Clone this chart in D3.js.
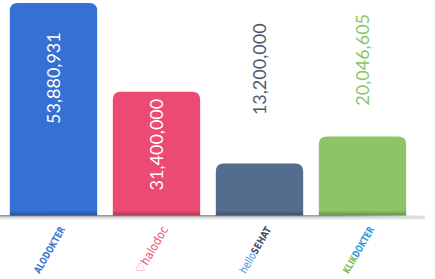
<!DOCTYPE html>
<html lang="en">
<head>
<meta charset="UTF-8">
<title></title>
<script src="https://d3js.org/d3.v7.min.js"></script>
<style>
  html, body { margin: 0; padding: 0; background: #fff; }
  svg { display: block; font-family: Lato, "Open Sans", sans-serif; }
</style>
</head>
<body>
<script>
// data
var brands = ["ALODOKTER", "halodoc", "helloSEHAT", "KLIKDOKTER"];
var values = [53880931, 31400000, 13200000, 20046605];
var barColors = ["#3570d4", "#eb4a72", "#546d8f", "#8bc566"];
var labelColors = ["#ffffff", "#ffffff", "#4b5a6e", "#8bc566"];

var W = 435, H = 279;
var base = 215.5;

var svg = d3.select("body").append("svg").attr("width", W).attr("height", H);
var defs = svg.append("defs");

var sh = defs.append("linearGradient").attr("id", "barShade").attr("x1", 0).attr("y1", 0).attr("x2", 0).attr("y2", 1);
sh.append("stop").attr("offset", "0%").attr("stop-color", "#000").attr("stop-opacity", 0);
sh.append("stop").attr("offset", "100%").attr("stop-color", "#000").attr("stop-opacity", 0.28);

var lg = defs.append("linearGradient").attr("id", "baseH").attr("x1", 0).attr("y1", 0).attr("x2", 1).attr("y2", 0);
lg.append("stop").attr("offset", "0%").attr("stop-color", "#8a8a8a").attr("stop-opacity", 0.9);
lg.append("stop").attr("offset", "80%").attr("stop-color", "#8a8a8a").attr("stop-opacity", 0.8);
lg.append("stop").attr("offset", "100%").attr("stop-color", "#8a8a8a").attr("stop-opacity", 0);

var lv = defs.append("linearGradient").attr("id", "baseV").attr("x1", 0).attr("y1", 0).attr("x2", 0).attr("y2", 1);
lv.append("stop").attr("offset", "0%").attr("stop-color", "#000").attr("stop-opacity", 0.2);
lv.append("stop").attr("offset", "100%").attr("stop-color", "#000").attr("stop-opacity", 0);

var x = d3.scaleBand().domain(brands).range([2, 414]).paddingInner(0.152).paddingOuter(0.076);
var y = d3.scaleLinear().domain([0, d3.max(values)]).range([base, 3]);

var data = brands.map(function(b, i){ return {brand: b, value: values[i], color: barColors[i], lc: labelColors[i]}; });

function topRounded(x0, y0, w, h, r){
  r = Math.min(r, h, w/2);
  return "M" + x0 + "," + (y0 + h) +
    "V" + (y0 + r) +
    "Q" + x0 + "," + y0 + " " + (x0 + r) + "," + y0 +
    "H" + (x0 + w - r) +
    "Q" + (x0 + w) + "," + y0 + " " + (x0 + w) + "," + (y0 + r) +
    "V" + (y0 + h) + "Z";
}

// baseline shadow
svg.append("rect").attr("x", 0).attr("y", base - 0.5).attr("width", 430).attr("height", 1.5).attr("fill", "url(#baseH)");
svg.append("rect").attr("x", 0).attr("y", base + 1).attr("width", 425).attr("height", 4).attr("fill", "url(#baseV)");

var bars = svg.selectAll(".bar").data(data).enter().append("g").attr("class", "bar");
bars.append("path")
  .attr("d", function(d){ return topRounded(x(d.brand), y(d.value), x.bandwidth(), base - y(d.value), 8); })
  .attr("fill", function(d){ return d.color; });
bars.append("rect")
  .attr("x", function(d){ return x(d.brand); })
  .attr("y", base - 5)
  .attr("width", x.bandwidth())
  .attr("height", 5)
  .attr("fill", "url(#barShade)");

// value labels, rotated
var fmt = d3.format(",");
svg.selectAll(".val").data(data).enter().append("text")
  .attr("class", "val")
  .attr("transform", function(d){
    var t = y(d.value), h = base - t, cy;
    if (h > 110) cy = t + 22 + 0.25 * h;
    else cy = t - 128 + 0.65 * h;
    return "translate(" + (x(d.brand) + x.bandwidth() / 2) + "," + cy + ") rotate(-90)";
  })
  .attr("text-anchor", "middle")
  .attr("dy", "0.36em")
  .attr("font-size", "18px")
  .attr("fill", function(d){ return d.lc; })
  .text(function(d){ return fmt(d.value); });

// brand "logos" as rotated text
var logo = svg.selectAll(".logo").data(data).enter().append("text")
  .attr("class", "logo")
  .attr("transform", function(d){ return "translate(" + (x(d.brand) + x.bandwidth() / 2 - 4) + ",250) rotate(-60)"; })
  .attr("text-anchor", "middle")
  .attr("dy", "0.35em")
  .attr("font-size", "10px")
  .attr("font-weight", "bold")
  .attr("textLength", 52)
  .attr("lengthAdjust", "spacingAndGlyphs")
  .attr("font-family", "'Liberation Sans Narrow', 'DejaVu Sans Condensed', sans-serif");

logo.each(function(d, i){
  var t = d3.select(this);
  if (i === 0) {
    t.append("tspan").attr("fill", "#3a78d8").text("ALODOKTER");
  } else if (i === 1) {
    t.append("tspan").attr("fill", "#ee4d7a").attr("font-weight", "normal").attr("font-size", "12px").text("\u2661halodoc");
  } else if (i === 2) {
    t.append("tspan").attr("fill", "#3f8fe8").attr("font-weight", "normal").attr("font-size", "11px").text("hello");
    t.append("tspan").attr("fill", "#42546e").text("SEHAT");
  } else {
    t.append("tspan").attr("fill", "#7cc04e").text("KLIK");
    t.append("tspan").attr("fill", "#2f9ad8").text("DOKTER");
  }
});
</script>
</body>
</html>
